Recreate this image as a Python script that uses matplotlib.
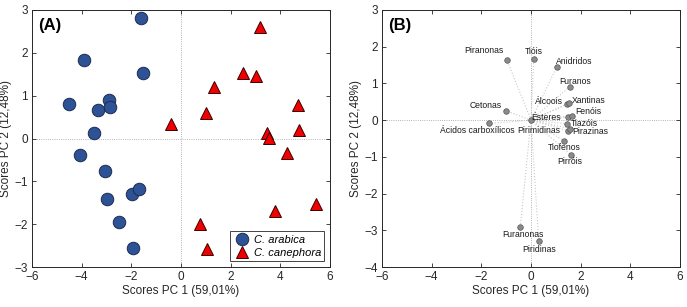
import matplotlib
matplotlib.use('Agg')
import matplotlib.pyplot as plt

# Panel A - scores
arabica_pc1 = [-1.61, -3.90, -1.55, -4.49, -2.88, -2.84, -3.36, -3.50, -4.05, -3.08, -3.00, -1.96, -1.70, -2.51, -1.94]
arabica_pc2 = [2.82, 1.84, 1.53, 0.80, 0.89, 0.73, 0.66, 0.13, -0.38, -0.77, -1.41, -1.30, -1.19, -1.95, -2.55]
canephora_pc1 = [3.20, 2.48, 3.00, 1.31, 0.99, -0.42, 4.73, 4.76, 3.47, 3.54, 4.25, 5.44, 3.77, 0.78, 1.06]
canephora_pc2 = [2.61, 1.53, 1.47, 1.20, 0.59, 0.34, 0.79, 0.19, 0.13, 0.01, -0.33, -1.52, -1.69, -2.00, -2.58]

# Panel B - loadings
classes = ['Piranonas', 'Tióis', 'Anidridos', 'Furanos', 'Álcoois', 'Xantinas', 'Cetonas',
           'Ésteres', 'Fenóis', 'Tiazóis', 'Ácidos carboxílicos', 'Pirimidinas', 'Pirazinas',
           'Tiofenos', 'Pirróis', 'Furanonas', 'Piridinas']
load_pc1 = [-0.97, 0.11, 1.03, 1.56, 1.45, 1.54, -1.01, 1.49, 1.65, 1.45, -1.68, 1.49, 1.57, 1.34, 1.60, -0.43, 0.31]
load_pc2 = [1.64, 1.66, 1.44, 0.91, 0.43, 0.46, 0.26, 0.08, 0.12, -0.10, -0.09, -0.29, -0.23, -0.57, -0.94, -2.90, -3.28]

# where each label sits relative to its point (pixels, ha)
label_pos = {
    'Piranonas': (-3, 9, 'right'), 'Tióis': (0, 8, 'center'), 'Anidridos': (-1, 6, 'left'),
    'Furanos': (5, 5, 'center'), 'Álcoois': (-4, 3, 'right'), 'Xantinas': (3, 3, 'left'),
    'Cetonas': (-4, 5, 'right'), 'Ésteres': (-7, 0, 'right'), 'Fenóis': (3, 4, 'left'),
    'Tiazóis': (4, 0, 'left'), 'Ácidos carboxílicos': (-12, -7, 'center'),
    'Pirimidinas': (-8, 0, 'right'), 'Pirazinas': (2, -3, 'left'), 'Tiofenos': (0, -6, 'center'),
    'Pirróis': (-1, -7, 'center'), 'Furanonas': (3, -8, 'center'), 'Piridinas': (0, -9, 'center'),
}

plt.rcParams['font.family'] = ['Liberation Sans', 'DejaVu Sans']
TXT = '#262626'


def style_axes(ax, ylim, yticks):
    ax.set_xlim(-6, 6)
    ax.set_ylim(*ylim)
    ax.set_xticks(range(-6, 7, 2))
    ax.set_yticks(yticks)
    ax.axhline(0, color='#9a9a9a', lw=0.6, ls=':', zorder=1)
    ax.axvline(0, color='#9a9a9a', lw=0.6, ls=':', zorder=1)
    ax.tick_params(direction='in', top=True, right=True, length=3, width=0.6,
                   labelsize=8.5, colors=TXT, pad=3)
    for s in ax.spines.values():
        s.set_color(TXT)
        s.set_linewidth(0.7)
    ax.set_xlabel('Scores PC 1 (59,01%)', fontsize=8.5, color=TXT, labelpad=1)
    ax.set_ylabel('Scores PC 2 (12,48%)', fontsize=8.5, color=TXT, labelpad=2)


def plot_scores(ax):
    style_axes(ax, (-3, 3), range(-3, 4))
    ax.plot(arabica_pc1, arabica_pc2, 'o', ms=9, mfc='#2d5295', mec='#1b2c4e', mew=0.7,
            ls='none', label='C. arabica', zorder=3)
    ax.plot(canephora_pc1, canephora_pc2, '^', ms=9, mfc='#f00000', mec='#3a0000', mew=0.7,
            ls='none', label='C. canephora', zorder=3)
    leg = ax.legend(loc='lower right', prop={'style': 'italic', 'size': 8}, fancybox=False,
                    edgecolor=TXT, framealpha=1, borderaxespad=0.5, handletextpad=0.3,
                    borderpad=0.3, labelspacing=0.3, handlelength=1.5)
    leg.get_frame().set_linewidth(0.6)
    ax.text(0.02, 0.97, '(A)', transform=ax.transAxes, fontsize=12, fontweight='bold',
            va='top', ha='left')


def plot_loadings(ax):
    style_axes(ax, (-4, 3), range(-4, 4))
    for x, y in zip(load_pc1, load_pc2):
        ax.plot([0, x], [0, y], ls=':', color='#c8c8c8', lw=0.8, zorder=2)
    ax.plot([0], [0], 'o', ms=4, mfc='#8a8a8a', mec='#555555', mew=0.5, zorder=3)
    ax.plot(load_pc1, load_pc2, 'o', ms=4, mfc='#8a8a8a', mec='#555555', mew=0.5,
            ls='none', zorder=3)
    for name, x, y in zip(classes, load_pc1, load_pc2):
        dx, dy, ha = label_pos[name]
        ax.annotate(name, (x, y), xytext=(dx * 0.72, dy * 0.72), textcoords='offset points',
                    ha=ha, va='center', fontsize=6.2, color='#1a1a1a')
    ax.text(0.02, 0.97, '(B)', transform=ax.transAxes, fontsize=12, fontweight='bold',
            va='top', ha='left')


def main():
    fig = plt.figure(figsize=(6.87, 3.07), dpi=100)
    ax_a = fig.add_axes([32 / 687, 40 / 307, 298 / 687, 257 / 307])
    ax_b = fig.add_axes([382 / 687, 40 / 307, 298 / 687, 257 / 307])
    plot_scores(ax_a)
    plot_loadings(ax_b)
    fig.savefig('out.png', dpi=100)


if __name__ == '__main__':
    main()
